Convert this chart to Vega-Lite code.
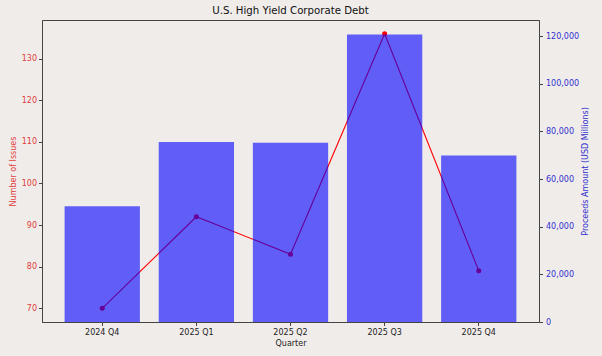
{
  "$schema": "https://vega.github.io/schema/vega-lite/v6.json",
  "width": 497,
  "height": 302,
  "autosize": {"type": "none"},
  "padding": {"left": 42, "top": 20, "right": 63, "bottom": 34},
  "background": "#f0ecea",
  "config": {
    "view": {"stroke": "#444444", "strokeWidth": 1},
    "font": "DejaVu Sans",
    "axis": {
      "grid": false,
      "domainColor": "#444444",
      "tickColor": "#444444",
      "tickSize": 3.5,
      "labelFont": "DejaVu Sans",
      "titleFont": "DejaVu Sans",
      "labelFontSize": 8,
      "titleFontSize": 8,
      "titleFontWeight": "normal",
      "labelColor": "#222222",
      "titleColor": "#222222"
    }
  },
  "title": {
    "text": "U.S. High Yield Corporate Debt",
    "fontSize": 10.2,
    "fontWeight": "normal",
    "font": "DejaVu Sans",
    "color": "#111111",
    "offset": 4
  },
  "data": {
    "values": [
      {"quarter": "2024 Q4", "issues": 70, "proceeds": 48600},
      {"quarter": "2025 Q1", "issues": 92, "proceeds": 75500},
      {"quarter": "2025 Q2", "issues": 83, "proceeds": 75200},
      {"quarter": "2025 Q3", "issues": 136, "proceeds": 120700},
      {"quarter": "2025 Q4", "issues": 79, "proceeds": 69850}
    ]
  },
  "encoding": {
    "x": {
      "field": "quarter",
      "type": "ordinal",
      "sort": null,
      "scale": {"paddingInner": 0.2, "paddingOuter": 0.24},
      "axis": {"title": "Quarter", "labelAngle": 0, "labelPadding": 3, "titlePadding": 3}
    }
  },
  "layer": [
    {
      "mark": {
        "type": "line",
        "color": "red",
        "strokeWidth": 1.1,
        "point": {"filled": true, "size": 25, "color": "red", "opacity": 1}
      },
      "encoding": {
        "y": {
          "field": "issues",
          "type": "quantitative",
          "scale": {"domain": [66.7, 139.3], "nice": false, "zero": false},
          "axis": {
            "orient": "left",
            "title": "Number of Issues",
            "values": [70, 80, 90, 100, 110, 120, 130],
            "labelColor": "#e03c3c",
            "titleColor": "#e03c3c",
            "labelPadding": 2,
            "titlePadding": 4
          }
        }
      }
    },
    {
      "mark": {"type": "bar", "color": "blue", "opacity": 0.6},
      "encoding": {
        "y": {
          "field": "proceeds",
          "type": "quantitative",
          "scale": {"domain": [0, 126735], "nice": false},
          "axis": {
            "orient": "right",
            "title": "Proceeds Amount (USD Millions)",
            "titleAngle": 270,
            "titleBaseline": "top",
            "values": [0, 20000, 40000, 60000, 80000, 100000, 120000],
            "format": ",d",
            "labelColor": "#3030d0",
            "titleColor": "#3030d0",
            "labelPadding": 3,
            "titlePadding": 3
          }
        }
      }
    }
  ],
  "resolve": {"scale": {"y": "independent"}}
}
